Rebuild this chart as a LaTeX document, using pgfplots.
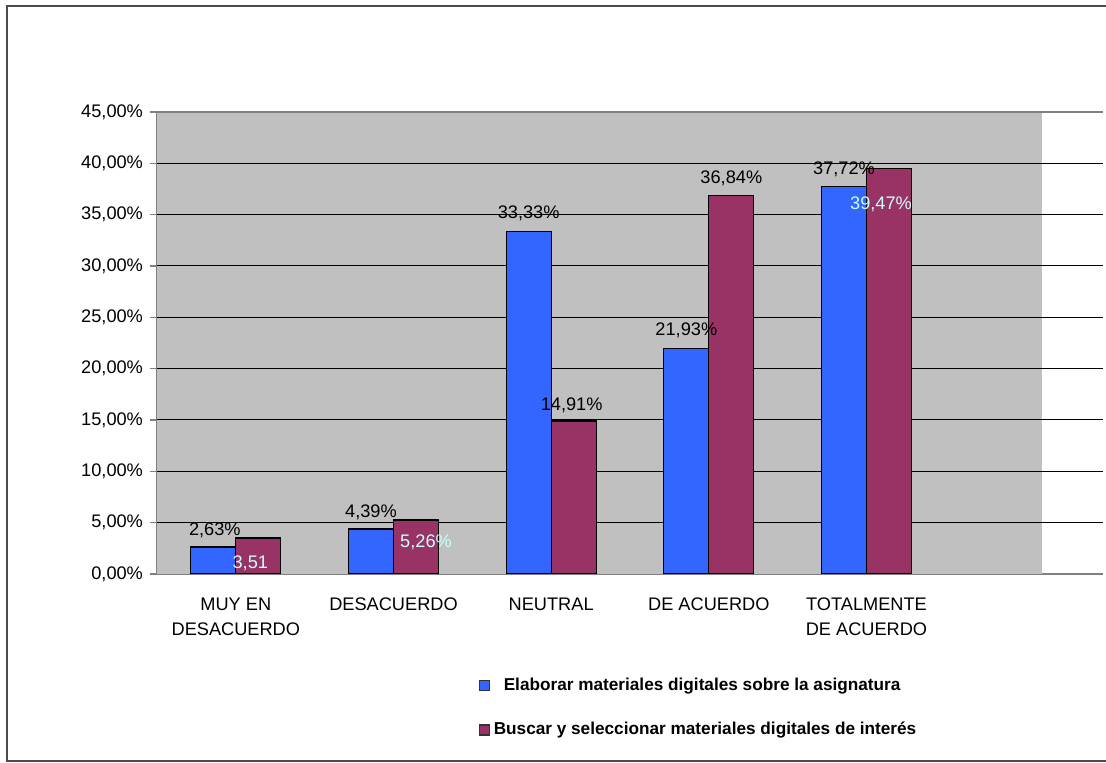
\documentclass[border=0pt]{standalone}
\usepackage{pgfplots}
\pgfplotsset{compat=1.18}
\usepackage{fontspec}
\setmainfont{Liberation Sans}
\definecolor{serieA}{HTML}{3366FF}
\definecolor{serieB}{HTML}{993366}
\definecolor{fondo}{HTML}{C0C0C0}
\definecolor{etiq}{HTML}{CCFFFF}
\definecolor{ejes}{HTML}{808080}
% etiqueta: desplazamiento x, desplazamiento y (centro del texto), color, texto
\newcommand\lab[4]{\raisebox{\dimexpr#2pt-3.3pt\relax}{\makebox[0pt]{\hspace{#1pt}\hspace{#1pt}\textcolor{#3}{#4}}}}

\begin{document}
\begin{tikzpicture}
\begin{axis}[
    scale only axis,
    width=473pt, height=231pt,
    xmin=-0.5, xmax=5.5,
    ymin=0, ymax=45,
    axis lines*=left,
    axis line style={ejes, line width=0.8pt},
    tick align=outside,
    font=\fontsize{9.1}{12.5}\selectfont,
    /pgf/number format/assume math mode=true,
    ytick={0,5,...,45},
    yticklabel={\pgfmathprintnumber[fixed,fixed zerofill,precision=2,use comma]{\tick}\%},
    ytick style={ejes, line width=0.8pt},
    major tick length=3.5pt,
    xtick={0,...,4},
    xticklabels={{MUY EN\\DESACUERDO},DESACUERDO,NEUTRAL,{DE ACUERDO},{TOTALMENTE\\DE ACUERDO}},
    xticklabel style={align=center, anchor=north, yshift=-5pt},
    xtick style={draw=none},
    minor xtick={-0.5,0.5,...,5.5},
    minor tick length=3pt,
    minor x tick style={ejes, line width=0.8pt},
    legend style={draw=none, fill=none, inner sep=0pt, row sep=10.5pt,
        at={(0.3395,-0.215)}, anchor=north west,
        font=\bfseries\fontsize{8.6}{10.5}\selectfont},
    legend cell align=left,
    unbounded coords=jump,
]
% fondo gris del area de trazado
\addplot[forget plot, fill=fondo, draw=none] coordinates {(-0.5,0) (-0.5,45) (5.115,45) (5.115,0)} -- cycle;
% lineas de division
\addplot[forget plot, black, line width=0.5pt] coordinates {
    (-0.5,5) (5.5,5) (nan,nan) (-0.5,10) (5.5,10) (nan,nan) (-0.5,15) (5.5,15) (nan,nan)
    (-0.5,20) (5.5,20) (nan,nan) (-0.5,25) (5.5,25) (nan,nan) (-0.5,30) (5.5,30) (nan,nan)
    (-0.5,35) (5.5,35) (nan,nan) (-0.5,40) (5.5,40) (nan,nan)
};
\addplot[forget plot, ejes, line width=0.8pt] coordinates {(-0.5,45) (5.5,45)};
\addplot[ybar, bar width=22.5pt, bar shift=-11.25pt, fill=serieA, draw=black, line width=0.6pt,
    point meta=explicit symbolic, nodes near coords,
    nodes near coords style={anchor=base, inner sep=0pt, font=\fontsize{9.1}{11}\selectfont},
    legend image code/.code={\draw[fill=serieA, draw=black!80, line width=0.6pt] (0pt,-2.5pt) rectangle (5pt,2.5pt);}]
coordinates {
    (0,2.63)  [\lab{-10.5}{9}{black}{2,63\%}]
    (1,4.39)  [\lab{-11.25}{9}{black}{4,39\%}]
    (2,33.33) [\lab{-11.25}{10}{black}{33,33\%}]
    (3,21.93) [\lab{-11.25}{10}{black}{21,93\%}]
    (4,37.72) [\lab{-11.25}{9.5}{black}{37,72\%}]
};
\addplot[ybar, bar width=22.5pt, bar shift=11.25pt, fill=serieB, draw=black, line width=0.6pt,
    point meta=explicit symbolic, nodes near coords,
    nodes near coords style={anchor=base, inner sep=0pt, font=\fontsize{9.1}{11}\selectfont},
    legend image code/.code={\draw[fill=serieB, draw=black!80, line width=0.6pt] (0pt,-2.5pt) rectangle (5pt,2.5pt);}]
coordinates {
    (0,3.51)  [\lab{7.25}{-12}{etiq}{3,51}]
    (1,5.26)  [\lab{16.25}{-10.5}{etiq}{5,26\%}]
    (2,14.91) [\lab{10.25}{8.5}{black}{14,91\%}]
    (3,36.84) [\lab{11.25}{9.5}{black}{36,84\%}]
    (4,39.47) [\lab{7.25}{-17}{etiq}{39,47\%}]
};
\legend{\hspace{5pt}Elaborar materiales digitales sobre la asignatura, Buscar y seleccionar materiales digitales de interés}
\end{axis}
\draw[black!70, line width=1pt] (474.5pt,284pt) -- (-75pt,284pt) -- (-75pt,-93.5pt) -- (474.5pt,-93.5pt);
\pgfresetboundingbox
\useasboundingbox (-78.5pt,-94.5pt) rectangle (474.5pt,287pt);
\end{tikzpicture}
\end{document}
